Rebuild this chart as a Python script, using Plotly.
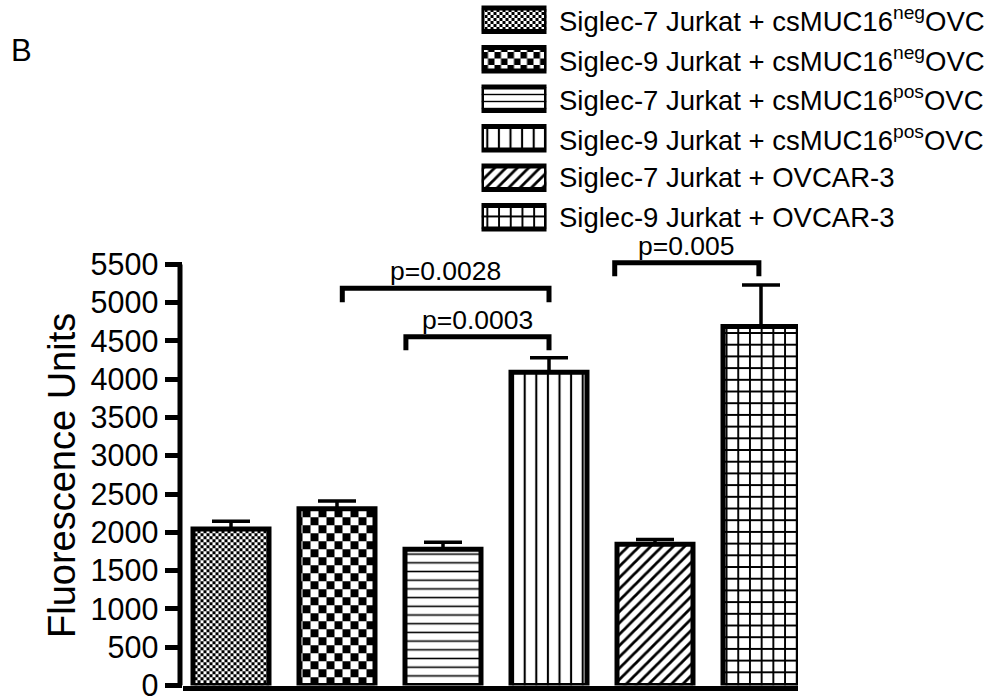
import plotly.graph_objects as go

W, H = 988, 697

# Groups, means and upper error (SEM) of the fluorescence read-out
groups = [
    "Siglec-7 Jurkat + csMUC16<sup>neg</sup>OVC",
    "Siglec-9 Jurkat + csMUC16<sup>neg</sup>OVC",
    "Siglec-7 Jurkat + csMUC16<sup>pos</sup>OVC",
    "Siglec-9 Jurkat + csMUC16<sup>pos</sup>OVC",
    "Siglec-7 Jurkat + OVCAR-3",
    "Siglec-9 Jurkat + OVCAR-3",
]
means = [2045, 2310, 1780, 4090, 1845, 4690]
sems = [100, 100, 90, 190, 62, 540]

# y-axis ticks
tick_vals = list(range(0, 5501, 500))
tick_text = [str(v) for v in tick_vals]
y_axis_top = 5500

# significance brackets: left / right ends (group index), bar height, foot height
bracket_left = [1.05, 1.65, 3.62]
bracket_right = [3.0, 3.0, 4.98]
bracket_top = [5190, 4555, 5520]
bracket_foot = [5005, 4380, 5345]
p_labels = ["p=0.0028", "p=0.0003", "p=0.005"]

FONT = "Liberation Sans, Arial, sans-serif"


def checker(tile):
    h = tile / 2
    return f"M0,0H{h}V{h}H0Z M{h},{h}H{tile}V{tile}H{h}Z"


patterns = [
    dict(path=checker(6), size=6),
    dict(path=checker(16), size=16),
    dict(shape="-", size=8.7, solidity=0.18),
    dict(shape="|", size=11.6, solidity=0.18),
    dict(shape="/", size=8, solidity=0.35),
    dict(shape="+", size=11.7, solidity=0.3),
]
legend_patterns = [
    dict(path=checker(6), size=6),
    dict(path=checker(13), size=13),
    dict(shape="-", size=7, solidity=0.2),
    dict(shape="|", size=11.6, solidity=0.18),
    dict(shape="/", size=8, solidity=0.35),
    dict(shape="+", size=11.7, solidity=0.3),
]


def make_pattern(p):
    base = dict(fgcolor="black", bgcolor="white", fillmode="replace")
    base.update(p)
    try:
        return go.bar.marker.Pattern(**base)
    except ValueError:
        base.pop("path", None)
        base.update(shape=".", solidity=0.5)
        return go.bar.marker.Pattern(**base)


fig = go.Figure()

# main bars
for i, g in enumerate(groups):
    fig.add_trace(go.Bar(
        x=[i], y=[means[i]], width=0.717,
        marker=dict(color="white", line=dict(color="black", width=5),
                    pattern=make_pattern(patterns[i])),
        error_y=dict(type="data", array=[sems[i]], arrayminus=[0], symmetric=False,
                     color="black", thickness=3.5, width=19),
        showlegend=False, xaxis="x", yaxis="y",
    ))

# significance brackets
for l, r, t, f in zip(bracket_left, bracket_right, bracket_top, bracket_foot):
    fig.add_trace(go.Scatter(
        x=[l, l, r, r], y=[f, t, t, f], mode="lines",
        line=dict(color="black", width=5),
        showlegend=False, hoverinfo="skip", xaxis="x", yaxis="y",
    ))

# legend swatches drawn as horizontal bars on their own axes
for i, g in enumerate(groups):
    fig.add_trace(go.Bar(
        y=[i], x=[1], orientation="h", width=0.6,
        marker=dict(color="white", line=dict(color="black", width=5),
                    pattern=make_pattern(legend_patterns[i])),
        showlegend=False, xaxis="x2", yaxis="y2",
    ))

annotations = []
for l, r, t, lab in zip(bracket_left, bracket_right, bracket_top, p_labels):
    annotations.append(dict(
        x=(l + r) / 2, y=t, xref="x", yref="y", text=lab, showarrow=False,
        xanchor="center", yanchor="bottom", font=dict(family=FONT, size=26.5, color="black"),
    ))
for i, g in enumerate(groups):
    annotations.append(dict(
        x=557 / W, y=i, xref="paper", yref="y2", text=g, showarrow=False,
        xanchor="left", yanchor="middle", font=dict(family=FONT, size=27.5, color="black"),
    ))
annotations.append(dict(
    x=62 / W, y=(H - 476) / H, xref="paper", yref="paper", text="Fluorescence Units",
    textangle=-90, showarrow=False, xanchor="center", yanchor="middle",
    font=dict(family=FONT, size=38, color="black"),
))
annotations.append(dict(
    x=21 / W, y=(H - 50) / H, xref="paper", yref="paper", text="B",
    showarrow=False, xanchor="center", yanchor="middle",
    font=dict(family=FONT, size=31, color="black"),
))

plot_left, plot_right = 182.5, 798
y0_px, y5500_px = 685.5, 264.4
px_per_unit = (y0_px - y5500_px) / 5500
y_range_top = 5750
plot_top = y0_px - y_range_top * px_per_unit
step = 106.0
x_first = 231.0

# y-axis spine stops at the last tick
shapes = [dict(
    type="line", xref="paper", yref="y", x0=180 / W, x1=180 / W, y0=0, y1=y_axis_top,
    line=dict(color="black", width=5),
)]

fig.update_layout(
    width=W, height=H,
    margin=dict(l=0, r=0, t=0, b=0, autoexpand=False),
    paper_bgcolor="white", plot_bgcolor="white",
    barmode="overlay",
    font=dict(family=FONT, color="black"),
    xaxis=dict(
        domain=[plot_left / W, plot_right / W],
        range=[-(x_first - plot_left) / step, (plot_right - x_first) / step],
        showgrid=False, zeroline=False, showticklabels=False, ticks="",
        showline=True, linecolor="black", linewidth=5, automargin=False,
    ),
    yaxis=dict(
        domain=[(H - y0_px) / H, (H - plot_top) / H],
        range=[0, y_range_top], showgrid=False, zeroline=False,
        tickvals=tick_vals, ticktext=tick_text, ticks="outside",
        ticklen=17, tickwidth=5, tickcolor="black",
        tickfont=dict(family=FONT, size=30.5, color="black"),
        showline=False, automargin=False, ticklabeloverflow="allow",
    ),
    xaxis2=dict(domain=[481.5 / W, 546.5 / W], range=[0, 1], visible=False,
                anchor="y2", automargin=False),
    yaxis2=dict(domain=[(H - 237) / H, 1.0], range=[5.5, -0.5], visible=False,
                anchor="x2", automargin=False),
    annotations=annotations,
    shapes=shapes,
    showlegend=False,
)

fig.write_html("out.html")
